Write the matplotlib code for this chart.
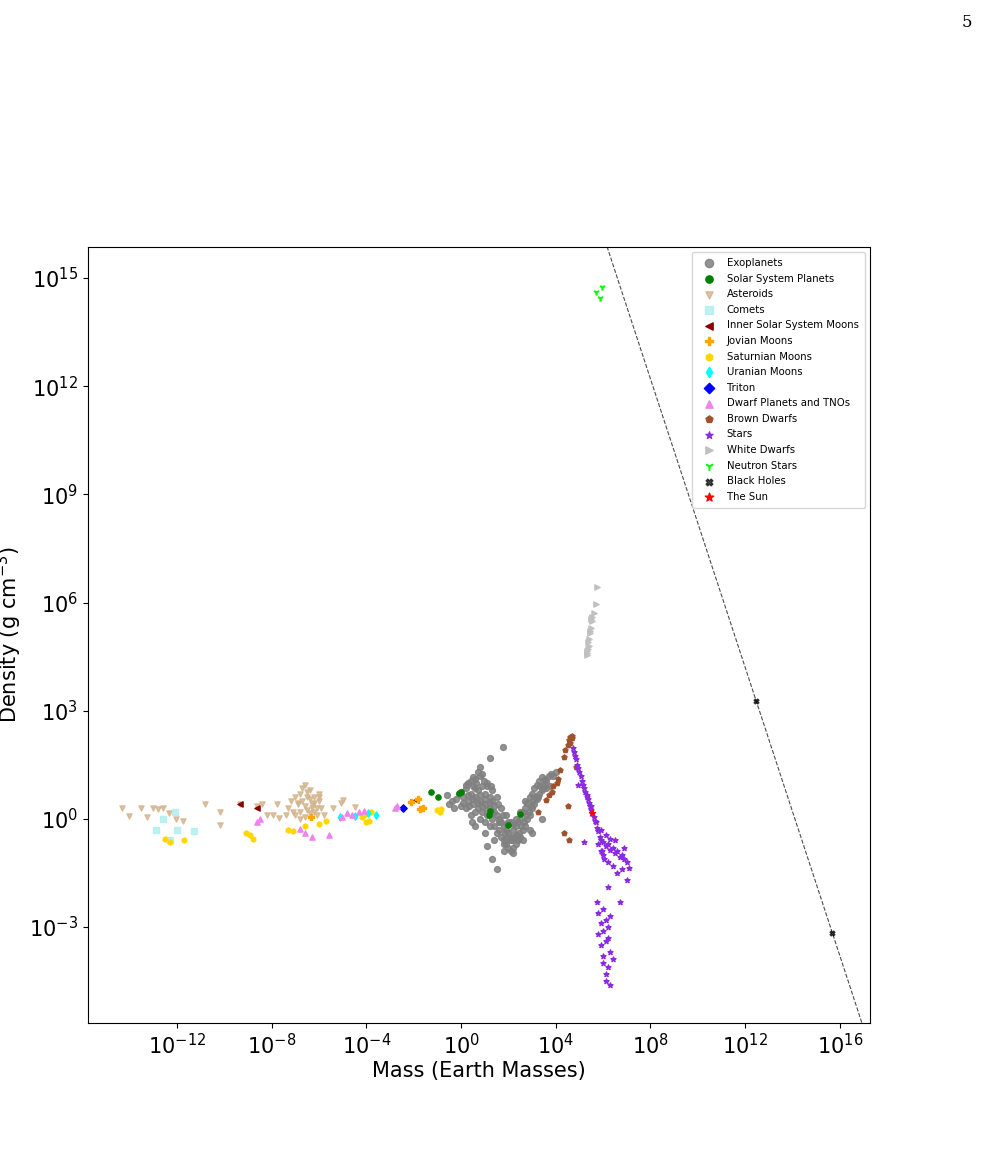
import numpy as np
import matplotlib
matplotlib.use("Agg")
import matplotlib.pyplot as plt

# ---- data: (log10 mass [Earth masses], log10 density [g/cm3]) ----
exo_logm = [-0.2,-0.1,0.0,0.1,0.2,0.3,0.3,0.4,0.5,0.5,0.6,0.6,0.7,0.7,0.8,0.8,0.9,0.9,1.0,1.0,
            1.1,1.1,1.2,1.2,1.3,1.3,1.4,1.4,1.5,1.5,1.6,1.6,1.7,1.7,1.8,1.8,1.9,1.9,2.0,2.0,
            2.1,2.1,2.2,2.2,2.3,2.3,2.4,2.4,2.5,2.5,2.6,2.6,2.7,2.7,2.8,2.8,2.9,2.9,3.0,3.0,
            3.1,3.1,3.2,3.2,3.3,3.3,3.4,3.4,3.5,3.6,3.7,3.8,3.9,4.0,0.4,0.6,0.8,1.0,1.2,0.5,
            0.7,0.9,1.1,1.3,1.5,1.7,1.9,2.1,2.3,2.5,2.7,0.2,0.6,1.0,1.4,1.8,2.2,2.6,3.0,1.3,
            1.8,1.5,2.4,3.4,0.8,1.2,-0.6,1.76,1.1,2.9,
            0.1,0.3,0.5,0.7,0.9,1.1,1.3,0.2,0.4,0.6,0.8,1.0,1.2,1.4,0.0,0.35,0.65,0.95,1.25,1.55,
            1.65,1.85,2.05,2.25,2.45,2.65,2.85,3.05,3.25,3.45,1.75,1.95,2.15,2.35,2.55,2.75,2.95,3.15,3.35,3.55,
            -0.4,-0.3,2.0,2.2,1.6,1.9,-0.5,3.6,3.75,0.45]
exo_logr = [0.55,0.7,0.75,0.6,0.85,0.5,1.0,0.7,0.9,0.4,1.1,0.6,0.3,0.8,1.2,0.5,0.9,0.2,0.7,0.4,
            1.0,0.1,0.6,0.3,0.0,0.5,-0.2,0.2,-0.4,0.1,-0.3,0.0,-0.5,-0.1,-0.6,-0.2,-0.7,-0.3,-0.8,-0.4,
            -0.9,-0.5,-0.8,-0.3,-0.7,-0.2,-0.6,-0.1,-0.5,0.0,-0.3,0.2,-0.2,0.3,0.0,0.45,0.1,0.6,0.3,0.7,
            0.4,0.85,0.55,0.95,0.7,1.05,0.8,1.15,0.95,1.05,1.2,1.25,1.2,1.3,0.1,0.2,0.0,-0.1,-0.2,1.15,
            1.3,1.25,0.9,0.8,0.6,0.3,0.1,-0.1,0.0,0.2,0.5,0.3,-0.2,-0.4,-0.6,-0.7,-0.95,-0.6,-0.4,-1.1,
            -0.9,-1.4,-0.55,0.0,1.45,1.7,0.65,2.0,-0.75,-0.3,
            0.45,0.65,0.55,0.45,0.35,0.25,0.15,0.95,1.05,0.85,0.65,0.55,0.45,0.35,0.35,0.35,1.0,1.05,0.9,0.4,
            -0.1,-0.4,-0.6,-0.5,-0.4,-0.1,0.2,0.5,0.6,0.85,0.1,-0.15,-0.6,-0.45,-0.2,0.1,0.35,0.6,0.9,1.1,
            0.5,0.3,-0.1,-0.15,-0.1,-0.55,0.4,0.85,0.9,-0.1]

ss_logm = [np.log10(0.055),np.log10(0.815),0.0,np.log10(0.107),np.log10(317.8),np.log10(95.2),np.log10(14.5),np.log10(17.1)]
ss_logr = [np.log10(5.43),np.log10(5.24),np.log10(5.51),np.log10(3.93),np.log10(1.33),np.log10(0.69),np.log10(1.27),np.log10(1.64)]

ast_logm = [-14.32,-14.03,-13.52,-13.27,-13.0,-12.8,-12.6,-12.34,-12.04,-11.75,-10.82,-10.2,-10.2,-9.35,-8.62,-8.41,-8.2,-7.95,-7.78,-7.7,
            -7.3,-7.2,-7.1,-7.0,-6.9,-6.8,-6.7,-6.6,-6.5,-6.4,-6.3,-6.2,-6.1,-6.0,-5.9,-7.0,-6.8,-6.6,-6.4,-6.2,
            -6.0,-6.9,-6.7,-6.5,-6.3,-6.1,-6.6,-6.4,-6.8,-6.2,-5.42,-5.08,-5.0,-4.49,-7.4,-5.8,-6.0,-6.5]
ast_logr = [0.30,0.08,0.30,0.06,0.30,0.28,0.30,0.17,0.0,-0.05,0.42,0.2,-0.17,0.42,0.36,0.42,0.11,0.11,0.42,0.03,
            0.3,0.5,0.2,0.6,0.4,0.7,0.5,0.94,0.6,0.8,0.4,0.6,0.3,0.5,0.3,0.1,0.2,0.35,0.15,0.2,
            0.7,0.45,0.85,0.75,0.3,0.1,0.05,0.55,0.0,0.45,0.3,0.44,0.53,0.33,0.1,0.1,0.6,0.25]

com_logm = [-12.9,-12.1,-12.0,-11.3,-12.6,-12.3]
com_logr = [-0.3,0.2,-0.3,-0.33,0.0,-0.6]

inner_logm = [-9.35,-8.62,np.log10(0.0123)]
inner_logr = [0.42,0.30,np.log10(3.34)]

jov_logm = [np.log10(0.015),np.log10(0.008),np.log10(0.025),np.log10(0.018),-6.35]
jov_logr = [np.log10(3.53),np.log10(3.01),np.log10(1.94),np.log10(1.83),0.05]

sat_logm = [-12.5,-12.3,-11.7,-9.1,-8.9,-8.8,-7.3,-7.1,-6.6,-6.0,-5.7,-4.2,-4.1,-4.0,-3.9,-3.8,-1.0,-0.9,-0.85]
sat_logr = [-0.55,-0.65,-0.6,-0.4,-0.45,-0.55,-0.3,-0.35,-0.2,-0.15,-0.05,0.05,0.1,-0.1,-0.05,0.2,0.25,0.2,0.27]

ura_logm = [-5.1,-4.5,-3.95,-3.6]
ura_logr = [0.05,0.08,0.15,0.12]

tri_logm = [np.log10(0.00358)]
tri_logr = [np.log10(2.06)]

dw_logm = [-8.6,-8.5,-6.8,-6.6,-5.6,-5.05,-4.8,-4.6,-4.3,-4.1,-2.8,-2.7,-6.3]
dw_logr = [-0.1,0.0,-0.28,-0.4,-0.45,0.05,0.15,0.1,0.2,0.22,0.3,0.35,-0.5]

bd_logm = [4.67,4.55,4.5,4.33,4.16,4.03,3.82,3.6,3.23,4.5,4.33,4.54,4.84,4.6,4.4,3.9,4.1,3.7,4.62,4.7]
bd_logr = [2.25,2.2,2.05,1.72,1.36,1.0,0.75,0.53,0.19,0.36,-0.39,-0.6,1.44,2.28,1.9,0.9,1.1,0.65,2.1,2.3]

star_logm = [4.71,4.8,4.9,5.0,5.1,5.2,5.3,5.4,5.5,5.6,5.7,5.75,5.8,5.85,5.9,6.0,6.1,6.2,6.3,6.4,
             6.5,6.6,6.7,6.8,6.9,7.0,7.1,6.0,6.2,6.4,6.6,6.8,5.9,6.1,6.3,6.5,6.9,4.95,5.3,5.5,
             5.75,5.8,5.9,6.0,6.1,6.2,6.3,6.4,5.9,6.0,6.1,6.2,6.3,6.0,6.1,6.2,5.8,6.0,6.1,6.3,
             6.2,5.2,7.0,6.7,4.75,4.85,4.95,5.05,5.15,5.25,5.35,5.45,5.55,5.65,5.8,5.9,5.95,6.05]
star_logr = [1.97,1.75,1.5,1.3,1.05,0.85,0.65,0.45,0.25,0.05,-0.1,-0.25,-0.35,-0.5,-0.6,-0.65,-0.75,-0.7,-0.85,-0.8,
             -0.95,-0.9,-1.05,-1.0,-1.1,-1.2,-1.35,-1.0,-1.2,-1.3,-1.5,-1.4,-0.9,-0.45,-0.55,-0.6,-0.8,0.95,0.6,0.35,
             -2.3,-2.6,-2.9,-3.1,-3.4,-3.3,-3.7,-3.9,-3.5,-4.0,-4.3,-4.1,-4.6,-2.5,-2.8,-3.0,-3.2,-3.8,-4.5,-2.7,
             -1.9,-0.65,-1.7,-2.3,1.85,1.65,1.4,1.2,0.95,0.75,0.55,0.35,0.15,-0.05,-0.7,-0.3,-0.9,-1.1]

wd_logm = [5.76,5.68,5.6,5.55,5.5,5.45,5.4,5.35,5.3,5.5,5.45,5.4,5.35,5.32,5.3,5.55]
wd_logr = [6.43,5.96,5.7,5.5,5.3,5.2,5.0,4.9,4.65,5.55,5.15,4.8,4.7,4.6,4.55,5.6]

ns_logm = [5.7,5.95,5.88]
ns_logr = [14.6,14.75,14.45]

bh_logm = [12.47,15.68]
bh_logr = [3.26,-3.16]

sun_logm = [np.log10(332946)]
sun_logr = [np.log10(1.41)]

line_logm = [5.0, 17.5]

# ---- plot ----
fig = plt.figure(figsize=(9.83, 11.53), dpi=100)
ax = fig.add_axes([0.0895, 0.1128, 0.7955, 0.6730])

def sc(lm, lr, **kw):
    ax.scatter(10**np.array(lm, dtype=float), 10**np.array(lr, dtype=float), **kw)

S = 14
sc(exo_logm, exo_logr, c='gray', marker='o', s=S+4, alpha=0.85, label='Exoplanets')
sc(ss_logm, ss_logr, c='green', marker='o', s=S, label='Solar System Planets', zorder=5)
sc(ast_logm, ast_logr, c='tan', marker='v', s=S, alpha=0.8, label='Asteroids')
sc(com_logm, com_logr, c='paleturquoise', marker='s', s=S, alpha=0.8, label='Comets')
sc(inner_logm, inner_logr, c='darkred', marker='<', s=S, label='Inner Solar System Moons')
sc(jov_logm, jov_logr, c='orange', marker='P', s=S, label='Jovian Moons')
sc(sat_logm, sat_logr, c='gold', marker='h', s=S, label='Saturnian Moons')
sc(ura_logm, ura_logr, c='cyan', marker='d', s=S, label='Uranian Moons')
sc(tri_logm, tri_logr, c='blue', marker='D', s=S, label='Triton')
sc(dw_logm, dw_logr, c='violet', marker='^', s=S, label='Dwarf Planets and TNOs')
sc(bd_logm, bd_logr, c='sienna', marker='p', s=S, label='Brown Dwarfs')
sc(star_logm, star_logr, c='blueviolet', marker='*', s=S, label='Stars')
sc(wd_logm, wd_logr, c='silver', marker='>', s=S, label='White Dwarfs')
sc(ns_logm, ns_logr, c='lime', marker='1', s=20, label='Neutron Stars')
sc(bh_logm, bh_logr, c='black', marker='X', s=12, alpha=0.7, label='Black Holes')
sc(sun_logm, sun_logr, c='red', marker='*', s=20, label='The Sun', zorder=6)

lm = np.array(line_logm)
ax.plot(10**lm, 10**(28.2 - 2*lm), ls='--', c='k', lw=0.8, alpha=0.7)

ax.set_xscale('log'); ax.set_yscale('log')
ax.set_xlim(10**-15.76, 10**17.27)
ax.set_ylim(10**-5.66, 10**15.86)
ax.set_xticks([10.0**k for k in (-12,-8,-4,0,4,8,12,16)])
ax.set_yticks([10.0**k for k in (-3,0,3,6,9,12,15)])
ax.minorticks_off()
ax.tick_params(labelsize=15)
ax.set_xlabel('Mass (Earth Masses)', fontsize=15, labelpad=2)
ax.set_ylabel(r'Density (g cm$^{-3}$)', fontsize=15, labelpad=4)
ax.legend(loc='upper right', fontsize=7.3, markerscale=1.4, borderpad=0.6, labelspacing=0.55)
fig.text(0.989, 0.988, '5', ha='right', va='top', fontsize=12, family='serif')
fig.savefig('out.png', dpi=100)
